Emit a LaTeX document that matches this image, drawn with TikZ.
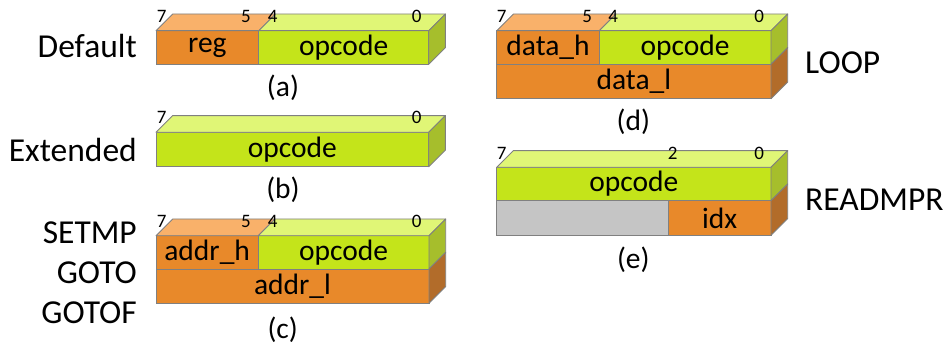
\documentclass[tikz,border=0pt]{standalone}
\usepackage{fontspec}
\setmainfont{Carlito}
\definecolor{orfront}{RGB}{232,137,42}
\definecolor{ortop}{RGB}{249,177,106}
\definecolor{orside}{RGB}{178,108,42}
\definecolor{grfront}{RGB}{196,228,26}
\definecolor{grtop}{RGB}{224,246,118}
\definecolor{grside}{RGB}{166,190,44}
\definecolor{grayfill}{RGB}{197,197,197}
\definecolor{edge}{RGB}{128,128,128}
\def\dd{16.7}
\newcommand\blocktop[2]{\filldraw[face,fill=#2] (#1.north west) -- ++(\dd,-\dd) -- ([shift={(\dd,-\dd)}]#1.north east) -- (#1.north east) -- cycle;}
\newcommand\blockside[2]{\filldraw[face,fill=#2] (#1.north east) -- ++(\dd,-\dd) -- ([shift={(\dd,-\dd)}]#1.south east) -- (#1.south east) -- cycle;}
\tikzset{
  face/.style={draw=edge, line width=0.9pt, line join=round},
  cell/.style={draw=edge, line width=0.9pt, inner sep=0pt, outer sep=0pt,
    anchor=north west, font=\fontsize{29.5}{29.5}\selectfont, text=black},
  bitno/.style={font=\fontsize{19}{19}\selectfont, inner sep=0pt},
  caption/.style={font=\fontsize{29.5}{29.5}\selectfont, inner sep=0pt},
  kind/.style={font=\fontsize{33.5}{33.5}\selectfont, inner sep=0pt},
}
\begin{document}
\begin{tikzpicture}[x=1pt,y=-1pt]
\useasboundingbox (0,0) rectangle (949,347);

% (a) default format
\node[cell, fill=orfront, minimum width=102.7, minimum height=33.6] (aReg) at (156,30.7) {reg};
\node[cell, fill=grfront, minimum width=170, minimum height=33.6] (aOp) at (aReg.north east) {opcode};
\blocktop{aReg}{ortop}
\blocktop{aOp}{grtop}
\blockside{aOp}{grside}
\node[bitno] (a7) at (161.7,16) {7};
\node[bitno] (a5) at (246,16) {5};
\node[bitno] (a4) at (272.7,16) {4};
\node[bitno] (a0) at (416.7,16) {0};
\node[caption] (acap) at (283,88) {(a)};
\node[kind, anchor=east] (akind) at (137,46) {Default};

% (b) extended format
\node[cell, fill=grfront, minimum width=272.7, minimum height=34.4] (bOp) at (156,132.3) {opcode};
\blocktop{bOp}{grtop}
\blockside{bOp}{grside}
\node[bitno] (b7) at (161.7,117) {7};
\node[bitno] (b0) at (416.7,117) {0};
\node[caption] (bcap) at (283,190) {(b)};
\node[kind, anchor=east] (bkind) at (137,150) {Extended};

% (c) jump formats
\node[cell, fill=orfront, minimum width=102.3, minimum height=33.3] (cHigh) at (156,235.7) {addr\_h};
\node[cell, fill=grfront, minimum width=170.7, minimum height=33.3] (cOp) at (cHigh.north east) {opcode};
\node[cell, fill=orfront, minimum width=273, minimum height=34.3] (cLow) at (cHigh.south west) {addr\_l};
\blocktop{cHigh}{ortop}
\blocktop{cOp}{grtop}
\blockside{cOp}{grside}
\blockside{cLow}{orside}
\node[bitno] (c7) at (161.7,221) {7};
\node[bitno] (c5) at (246,221) {5};
\node[bitno] (c4) at (272.7,221) {4};
\node[bitno] (c0) at (416.7,221) {0};
\node[caption] (ccap) at (282.7,330) {(c)};
\node[kind, anchor=east] (ckind1) at (137,233) {SETMP};
\node[kind, anchor=east] (ckind2) at (137,273) {GOTO};
\node[kind, anchor=east] (ckind3) at (137,313) {GOTOF};

% (d) loop format
\node[cell, fill=orfront, minimum width=102.6, minimum height=33.6] (dHigh) at (496.7,30.7) {data\_h};
\node[cell, fill=grfront, minimum width=171.7, minimum height=33.6] (dOp) at (dHigh.north east) {opcode};
\node[cell, fill=orfront, minimum width=274.3, minimum height=34.4] (dLow) at (dHigh.south west) {data\_l};
\blocktop{dHigh}{ortop}
\blocktop{dOp}{grtop}
\blockside{dOp}{grside}
\blockside{dLow}{orside}
\node[bitno] (d7) at (501.7,16) {7};
\node[bitno] (d5) at (587.3,16) {5};
\node[bitno] (d4) at (613.3,16) {4};
\node[bitno] (d0) at (759.3,16) {0};
\node[caption] (dcap) at (633.3,121.7) {(d)};
\node[kind, anchor=west] (dkind) at (805,63) {LOOP};

% (e) read-MPR format
\node[cell, fill=grfront, minimum width=274.3, minimum height=33.4] (eOp) at (496.7,167.3) {opcode};
\node[cell, fill=grayfill, minimum width=171.6, minimum height=34.6] (eGap) at (eOp.south west) {};
\node[cell, fill=orfront, minimum width=102.7, minimum height=34.6] (eIdx) at (eGap.north east) {idx};
\blocktop{eOp}{grtop}
\blockside{eOp}{grside}
\blockside{eIdx}{orside}
\node[bitno] (e7) at (501.7,153) {7};
\node[bitno] (e2) at (672.7,153) {2};
\node[bitno] (e0) at (759.3,153) {0};
\node[caption] (ecap) at (633.3,260) {(e)};
\node[kind, anchor=west] (ekind) at (805,200) {READMPR};
\end{tikzpicture}
\end{document}
